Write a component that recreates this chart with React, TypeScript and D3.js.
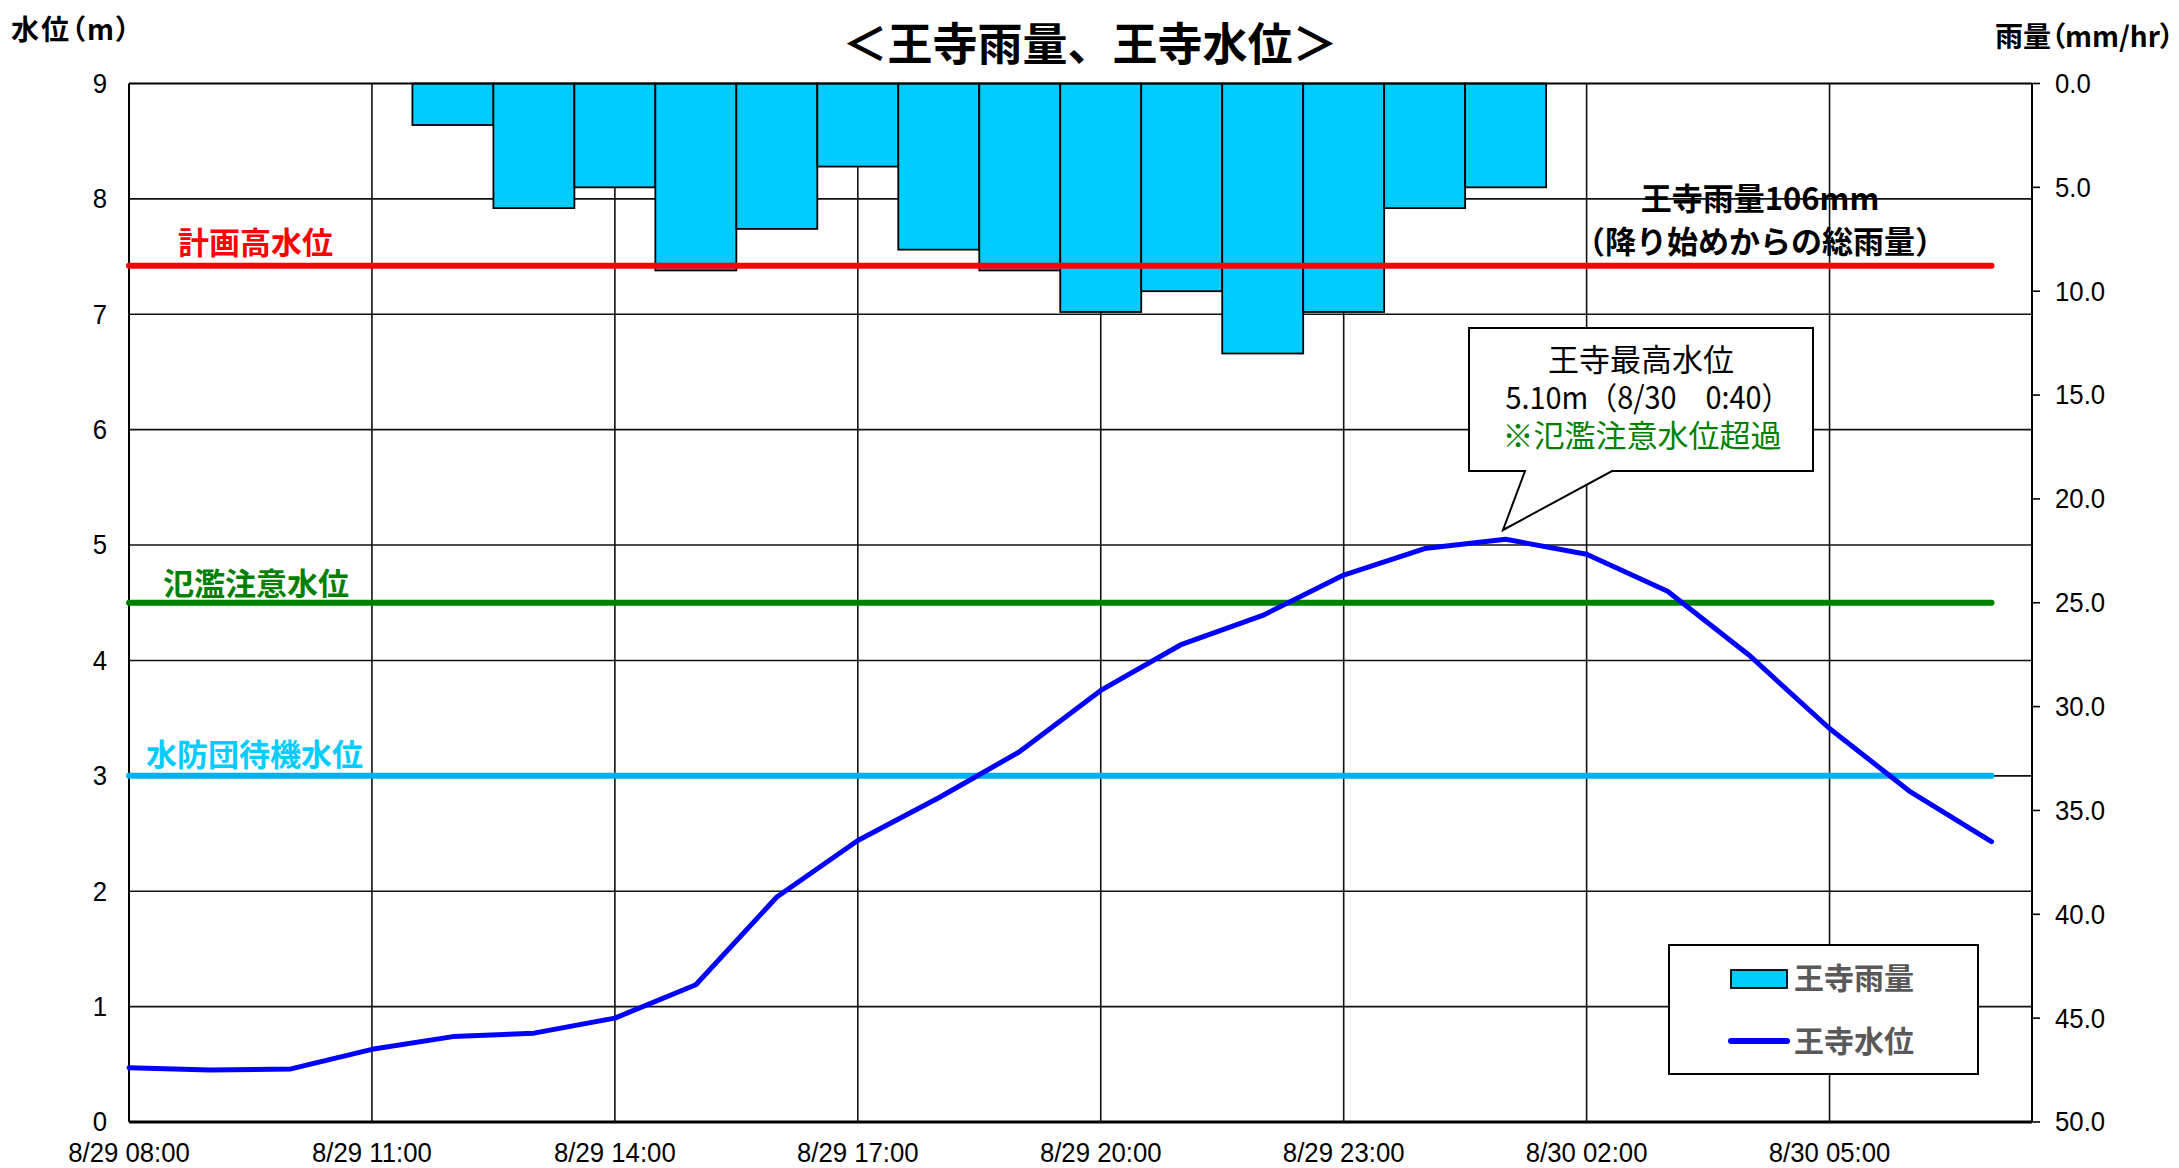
import React from 'react';
import * as d3 from 'd3';

const W = 2179;
const H = 1168;

// ---- data ----
const timeLabels = [
  '8/29 08:00', '8/29 09:00', '8/29 10:00', '8/29 11:00', '8/29 12:00', '8/29 13:00',
  '8/29 14:00', '8/29 15:00', '8/29 16:00', '8/29 17:00', '8/29 18:00', '8/29 19:00',
  '8/29 20:00', '8/29 21:00', '8/29 22:00', '8/29 23:00', '8/30 00:00', '8/30 01:00',
  '8/30 02:00', '8/30 03:00', '8/30 04:00', '8/30 05:00', '8/30 06:00', '8/30 07:00',
];
const waterLevel = [
  0.47, 0.45, 0.46, 0.63, 0.74, 0.77, 0.90, 1.19, 1.95, 2.44, 2.81, 3.21,
  3.74, 4.14, 4.39, 4.74, 4.97, 5.05, 4.92, 4.60, 4.05, 3.41, 2.86, 2.43,
];
const rainTimes = [
  '8/29 12:00', '8/29 13:00', '8/29 14:00', '8/29 15:00', '8/29 16:00', '8/29 17:00', '8/29 18:00',
  '8/29 19:00', '8/29 20:00', '8/29 21:00', '8/29 22:00', '8/29 23:00', '8/30 00:00', '8/30 01:00',
];
const rainValues = [2, 6, 5, 9, 7, 4, 8, 9, 11, 10, 13, 11, 6, 5];
const xTickLabels = [
  '8/29 08:00', '8/29 11:00', '8/29 14:00', '8/29 17:00',
  '8/29 20:00', '8/29 23:00', '8/30 02:00', '8/30 05:00',
];
const xDomainEnd = '8/30 07:30';
const leftTicks = [0, 1, 2, 3, 4, 5, 6, 7, 8, 9];
const rightTicks = [0, 5, 10, 15, 20, 25, 30, 35, 40, 45, 50];
const refNames = ['計画高水位', '氾濫注意水位', '水防団待機水位'];
const refValues = [7.42, 4.5, 3.0];
const refLineColors = ['#FF0000', '#008000', '#00B0F0'];
const refTextColors = ['#FF0000', '#008000', '#00CCFF'];

const NUM = "'Liberation Sans', Arial, sans-serif";
const JP = "'Noto Sans CJK JP', 'Noto Sans CJK SC', sans-serif";
const SX = 0.92; // horizontal condensing for numeric labels

const parse = d3.timeParse('%m/%d %H:%M');

function NumText({ x, y, anchor, size, children }: { x: number; y: number; anchor: string; size: number; children: any }) {
  return (
    <text transform={`translate(${x},${y}) scale(${SX},1)`} textAnchor={anchor} dominantBaseline="central"
      fontFamily={NUM} fontSize={size} fill="#000">
      {children}
    </text>
  );
}

export default function App() {
  const L = 129, R = 2032, T = 83.5, B = 1122;
  const x = d3.scaleTime()
    .domain([parse(timeLabels[0]) as Date, parse(xDomainEnd) as Date])
    .range([L, R]);
  const y = d3.scaleLinear().domain([0, 9]).range([B, T]);
  const yR = d3.scaleLinear().domain([0, 50]).range([T, B]);

  const pts = timeLabels.map((t, i) => [x(parse(t) as Date), y(waterLevel[i])] as [number, number]);
  const linePath = d3.line()(pts) || '';
  const half = 30 * 60 * 1000;
  const firstX = x(parse(timeLabels[0]) as Date);
  const lastX = x(parse(timeLabels[timeLabels.length - 1]) as Date);

  const refLabelPos = [
    { x: 178, y: 240 },
    { x: 163, y: 581 },
    { x: 146, y: 752 },
  ];
  const palt = { fontFeatureSettings: '"palt"' } as React.CSSProperties;

  return (
    <svg width={W} height={H} style={{ position: 'absolute', left: 0, top: 0, background: '#fff' }}>
      <rect x={0} y={0} width={W} height={H} fill="#fff" />
      {/* grid */}
      {leftTicks.filter(v => v > 0 && v < 9).map(v => (
        <line key={'h' + v} x1={L} x2={R} y1={y(v)} y2={y(v)} stroke="#111" strokeWidth={1.6} />
      ))}
      {xTickLabels.slice(1).map(t => (
        <line key={'v' + t} x1={x(parse(t) as Date)} x2={x(parse(t) as Date)} y1={T} y2={B} stroke="#111" strokeWidth={1.6} />
      ))}
      {/* bars */}
      {rainTimes.map((t, i) => {
        const c = (parse(t) as Date).getTime();
        const x0 = x(new Date(c - half));
        const x1 = x(new Date(c + half));
        return (
          <rect key={'b' + i} x={x0} y={T} width={x1 - x0} height={yR(rainValues[i]) - T}
            fill="#00CCFF" stroke="#000" strokeWidth={1.8} />
        );
      })}
      {/* frame */}
      <line x1={L} x2={R} y1={T} y2={T} stroke="#000" strokeWidth={2} />
      <line x1={L} x2={L} y1={T} y2={B} stroke="#000" strokeWidth={2} />
      <line x1={R} x2={R} y1={T} y2={B} stroke="#000" strokeWidth={2} />
      <line x1={L} x2={R} y1={B} y2={B} stroke="#000" strokeWidth={3} />
      {/* right ticks */}
      {rightTicks.map(v => (
        <g key={'r' + v}>
          <line x1={R} x2={R + 8} y1={yR(v)} y2={yR(v)} stroke="#000" strokeWidth={1.6} />
          <NumText x={2055} y={yR(v)} anchor="start" size={28}>{v.toFixed(1)}</NumText>
        </g>
      ))}
      {/* left ticks */}
      {leftTicks.map(v => (
        <NumText key={'l' + v} x={107} y={y(v)} anchor="end" size={28}>{v}</NumText>
      ))}
      {/* x tick labels */}
      {xTickLabels.map(t => (
        <NumText key={'x' + t} x={x(parse(t) as Date)} y={1153} anchor="middle" size={28}>{t}</NumText>
      ))}
      {/* reference lines */}
      {refValues.map((v, i) => (
        <g key={'ref' + i}>
          <line x1={firstX} x2={lastX} y1={y(v)} y2={y(v)} stroke={refLineColors[i]} strokeWidth={6} strokeLinecap="round" />
          <text x={refLabelPos[i].x} y={refLabelPos[i].y} dominantBaseline="central" fontFamily={JP} fontWeight="bold" fontSize={31} fill={refTextColors[i]}>
            {refNames[i]}
          </text>
        </g>
      ))}
      {/* water line */}
      <path d={linePath} fill="none" stroke="#0000FF" strokeWidth={5} strokeLinejoin="round" strokeLinecap="round" />

      {/* title and axis titles */}
      <text x={1090} y={41} textAnchor="middle" dominantBaseline="central" fontFamily={JP} fontWeight="bold" fontSize={45} fill="#000">
        ＜王寺雨量、王寺水位＞
      </text>
      <text x={11} y={28} dominantBaseline="central" fontFamily={JP} fontWeight="bold" fontSize={28} fill="#000" style={palt} letterSpacing={2}>
        水位（m）
      </text>
      <text x={2174} y={35} textAnchor="end" dominantBaseline="central" fontFamily={JP} fontWeight="bold" fontSize={28} fill="#000" style={palt}>
        雨量（mm/hr）
      </text>

      {/* total rain text */}
      <text x={1760} y={196} textAnchor="middle" dominantBaseline="central" fontFamily={JP} fontWeight="bold" fontSize={31} fill="#000">
        王寺雨量106mm
      </text>
      <text x={1760} y={239} textAnchor="middle" dominantBaseline="central" fontFamily={JP} fontWeight="bold" fontSize={31} fill="#000">
        （降り始めからの総雨量）
      </text>

      {/* callout */}
      <path d="M1469,328 L1813,328 L1813,471 L1612,471 L1503,530 L1525,471 L1469,471 Z" fill="#fff" stroke="#000" strokeWidth={2} />
      <text x={1641} y={357} textAnchor="middle" dominantBaseline="central" fontFamily={JP} fontSize={31} fill="#000">王寺最高水位</text>
      <text x={1648} y={395} textAnchor="middle" dominantBaseline="central" fontFamily={JP} fontSize={31} fill="#000"
        textLength={285} lengthAdjust="spacingAndGlyphs">5.10m（8/30　0:40）</text>
      <text x={1642} y={433} textAnchor="middle" dominantBaseline="central" fontFamily={JP} fontSize={31} fill="#008000">※氾濫注意水位超過</text>

      {/* legend */}
      <rect x={1669} y={945} width={309} height={129} fill="#fff" stroke="#000" strokeWidth={2} />
      <rect x={1731} y={970} width={56} height={18} fill="#00CCFF" stroke="#000" strokeWidth={1.8} />
      <text x={1794} y={976} dominantBaseline="central" fontFamily={JP} fontWeight="bold" fontSize={30} fill="#595959">王寺雨量</text>
      <line x1={1731} x2={1787} y1={1041} y2={1041} stroke="#0000FF" strokeWidth={6} strokeLinecap="round" />
      <text x={1794} y={1039} dominantBaseline="central" fontFamily={JP} fontWeight="bold" fontSize={30} fill="#595959">王寺水位</text>
    </svg>
  );
}
